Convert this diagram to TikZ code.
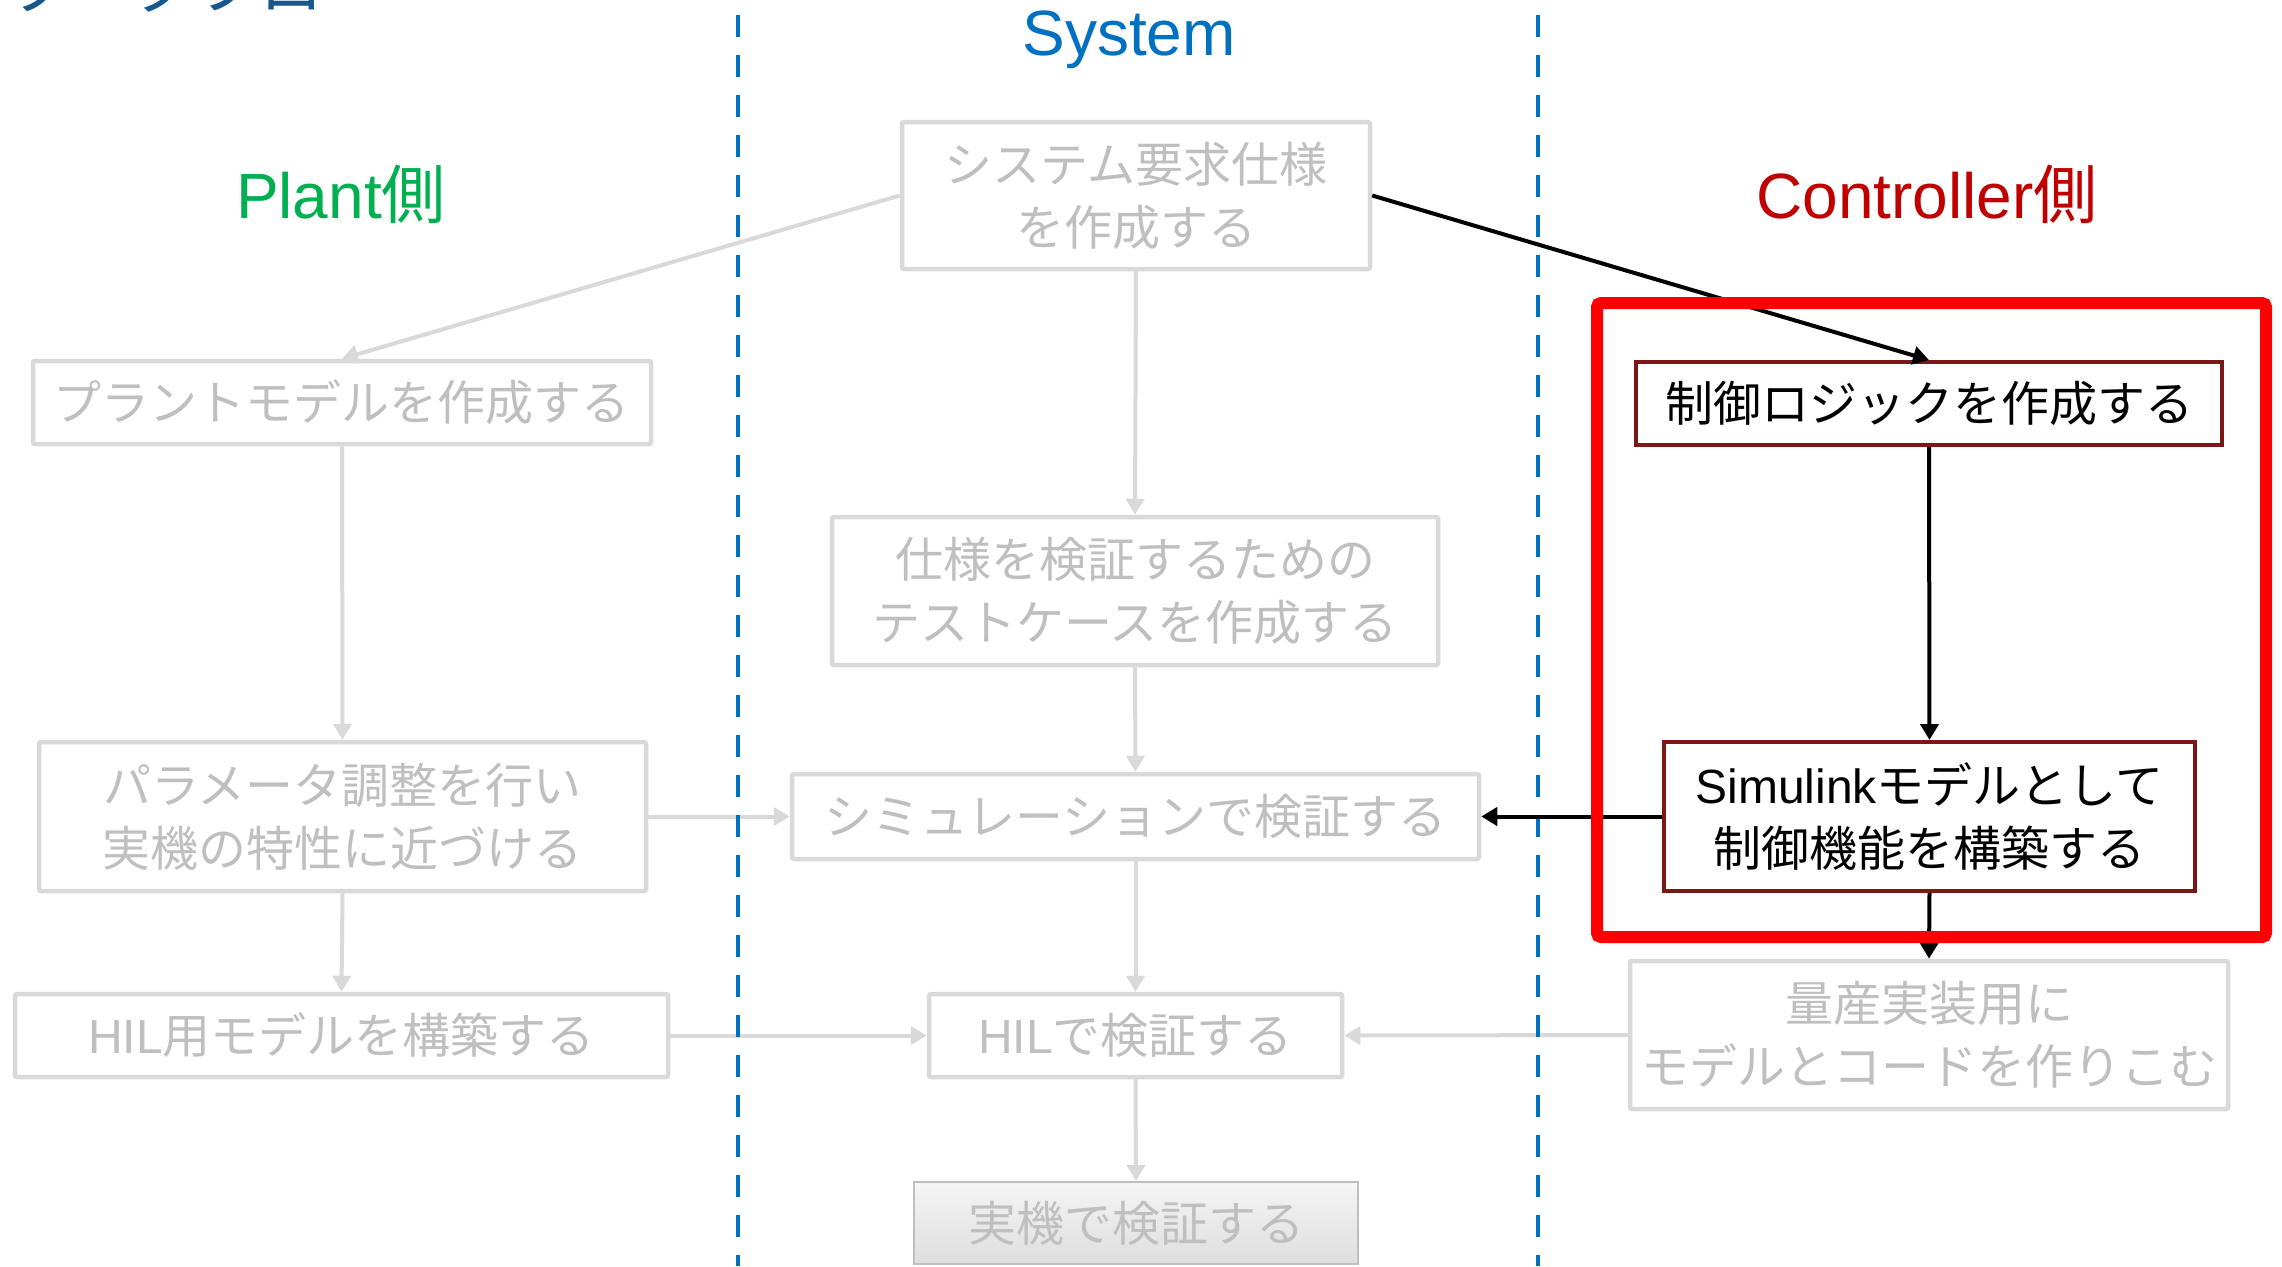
\documentclass[tikz,border=0pt]{standalone}
\usepackage{fontspec}
\setmainfont{Liberation Sans}
\newfontfamily\jp{Noto Sans CJK JP}
\usetikzlibrary{arrows.meta}
\definecolor{titleblue}{RGB}{22,88,140}
\definecolor{sysblue}{RGB}{0,112,192}
\definecolor{plantgreen}{RGB}{0,176,80}
\definecolor{ctrltext}{RGB}{192,0,0}
\definecolor{boxgray}{RGB}{217,217,217}
\definecolor{txtgray}{RGB}{191,191,191}
\definecolor{ctrlborder}{RGB}{122,24,24}
\newcommand\bxfont{\jp\fontsize{24}{31.5}\selectfont}
\newcommand\lblfont{\fontsize{32}{36}\selectfont}
\newcommand\latn[1]{{\fontspec{Liberation Sans}#1}}
\tikzset{
  gbox/.style={draw=boxgray, line width=2.25pt, rounded corners=1pt, text=txtgray,
    align=center, inner sep=0pt, font=\bxfont},
  cbox/.style={draw=ctrlborder, line width=2pt, fill=white, text=black,
    align=center, inner sep=0pt, font=\bxfont},
  garrow/.style={draw=boxgray, line width=2pt, -{Triangle[width=9pt,length=8pt]}},
  barrow/.style={draw=black, line width=2pt, -{Triangle[width=9pt,length=8pt]}},
  sepline/.style={draw=sysblue, line width=2.3pt, dash pattern=on 11pt off 9pt},
  lbl/.style={inner sep=0pt, font=\lblfont}
}
\begin{document}
\begin{tikzpicture}[x=0.5pt,y=-0.5pt]
\useasboundingbox (0,0) rectangle (2282,1266);
\fill[white] (0,0) rectangle (2282,1266);

% title (cut off at the top, as in the reference)
\node[anchor=base west, inner sep=0pt, text=titleblue, font=\jp\fontsize{32}{32}\selectfont] (title) at (3,9) {ワークフロー};

% column headings
\node[lbl, text=sysblue] (hsys) at (1129,40) {System};
\node[lbl, text=plantgreen] (hplant) at (341,194) {Plant{\jp 側}};
\node[lbl, text=ctrltext] (hctrl) at (1927,194) {Controller{\jp 側}};

% system column
\node[gbox, minimum width=234pt, minimum height=73.5pt] (sysreq) at (1136,195.5) {システム要求仕様\\を作成する};
\node[gbox, minimum width=303pt, minimum height=74pt] (test) at (1135,591) {仕様を検証するための\\テストケースを作成する};
\node[gbox, minimum width=343.5pt, minimum height=42.5pt] (sim) at (1135.5,816.5) {シミュレーションで検証する};
\node[gbox, minimum width=206.5pt, minimum height=41.5pt] (hilv) at (1135.5,1035.5) {\latn{HIL}で検証する};
\node[draw=txtgray, line width=1pt, top color=white!96!black, bottom color=black!13,
  text=txtgray, align=center, inner sep=0pt, font=\bxfont,
  minimum width=222pt, minimum height=41pt] (real) at (1136,1223) {実機で検証する};

% plant column
\node[gbox, minimum width=309pt, minimum height=41.5pt] (plant) at (342,402.5) {プラントモデルを作成する};
\node[gbox, minimum width=303.5pt, minimum height=74.5pt] (param) at (342.5,816.5) {パラメータ調整を行い\\実機の特性に近づける};
\node[gbox, minimum width=326.5pt, minimum height=41.5pt] (hilm) at (341.5,1035.5) {\latn{HIL}用モデルを構築する};

% controller column
\node[cbox, minimum width=293pt, minimum height=41.5pt] (logic) at (1929,403.5) {制御ロジックを作成する};
\node[cbox, minimum width=265.5pt, minimum height=74.5pt] (simlk) at (1929.5,816.5) {\latn{Simulink}モデルとして\\制御機能を構築する};
\node[gbox, minimum width=299pt, minimum height=74pt] (mass) at (1929,1035) {量産実装用に\\モデルとコードを作りこむ};

% gray connectors
\draw[garrow] (sysreq.west) -- (plant.north);
\draw[garrow] (sysreq.south) -- (test.north);
\draw[garrow] (test.south) -- (sim.north);
\draw[garrow] (sim.south) -- (hilv.north);
\draw[garrow] (hilv.south) -- (real.north);
\draw[garrow] (plant.south) -- (param.north);
\draw[garrow] (param.south) -- (hilm.north);
\draw[garrow] (param.east) -- (sim.west);
\draw[garrow] (hilm.east) -- (hilv.west);
\draw[garrow] (mass.west) -- (hilv.east);

% separators
\draw[sepline] (738,15) -- (738,1266);
\draw[sepline] (1538,15) -- (1538,1266);

% black connectors
\draw[barrow] (sysreq.east) -- (logic.north);
\draw[barrow] (logic.south) -- (simlk.north);
\draw[barrow] (simlk.west) -- (sim.east);
\draw[barrow] (simlk.south) -- (mass.north);

% highlight frame
\draw[red, line width=6pt, rounded corners=2pt] (1597,303) rectangle (2266,937);
\end{tikzpicture}
\end{document}
